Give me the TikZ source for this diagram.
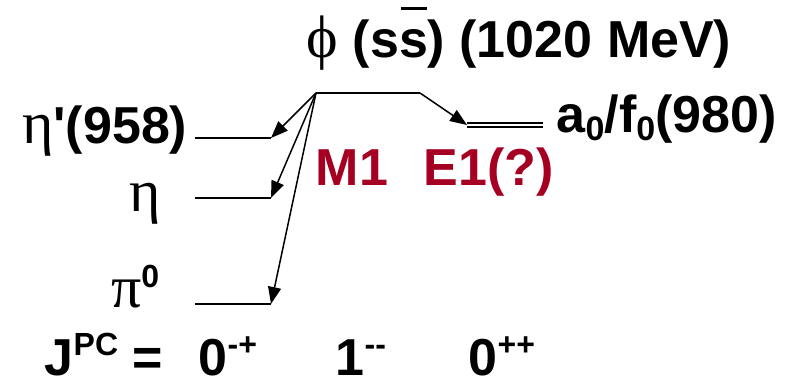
\documentclass[tikz,border=0pt]{standalone}
\usepackage{fontspec}
\setmainfont{Liberation Sans}
\newfontfamily\grk{Liberation Serif}
\usetikzlibrary{arrows.meta}
\definecolor{transred}{RGB}{165,0,33}
\newcommand\antis{\rlap{\kern.03em\rule[.93em]{.5em}{.06em}}s}
\newcommand\gk[1]{{\grk\mdseries\fontsize{60}{60}\selectfont #1}}
\newcommand\supq[1]{\raisebox{20pt}{\fontsize{32}{32}\selectfont #1}}
\newcommand\subq[1]{\raisebox{-8pt}{\fontsize{34}{34}\selectfont #1}}

\begin{document}
\begin{tikzpicture}[x=1pt,y=-1pt,line width=1.5pt,>={Triangle[length=17pt,width=13pt]},
  lbl/.style={font=\fontsize{52}{56}\selectfont\bfseries,inner sep=0pt},
  trans/.style={font=\fontsize{52}{56}\selectfont\bfseries,text=transred,inner sep=0pt}]
\useasboundingbox (0,0) rectangle (794,377);
% levels
\coordinate (phiL) at (316,93); \coordinate (phiR) at (420,93);
\coordinate (aL) at (467,125); \coordinate (aR) at (543,125);
\coordinate (etapL) at (195,138); \coordinate (etapR) at (271,138);
\coordinate (etaL) at (195,198); \coordinate (etaR) at (271,198);
\coordinate (piL) at (195,304); \coordinate (piR) at (271,304);
\draw (phiL) -- (phiR);
\draw[double,double distance=2.5pt,line width=1.4pt] (aL) -- (aR);
\draw (etapL) -- (etapR);
\draw (etaL) -- (etaR);
\draw (piL) -- (piR);
% transitions
\draw[->] (phiR) -- (aL);
\draw[->] (phiL) -- (etapR);
\draw[->] (phiL) -- (etaR);
\draw[->] (phiL) -- (piR);
% labels
\node[lbl,anchor=base west] (phi) at (306,58) {\gk{ϕ} (s\antis) (1020 MeV)};
\node[lbl,anchor=base west] (a0) at (556,132) {a\subq{0}/f\subq{0}(980)};
\node[lbl,anchor=base east] (etap) at (188,143) {\gk{η}\textquotesingle(958)};
\node[lbl,anchor=base east] (eta) at (162,211) {\gk{η}};
\node[lbl,anchor=base east] (pi) at (160,307) {\gk{π}\supq{0}};
\node[trans,anchor=base west] (m1) at (315,185) {M1};
\node[trans,anchor=base west] (e1) at (423,185) {E1(?)};
\node[lbl,anchor=base west] (jpc) at (44,375) {J\supq{PC} =};
\node[lbl,anchor=base west] (ps) at (198,375) {0\supq{-+}};
\node[lbl,anchor=base west] (vec) at (335,375) {1\supq{-{}-}};
\node[lbl,anchor=base west] (sc) at (468,375) {0\supq{++}};
\end{tikzpicture}
\end{document}
